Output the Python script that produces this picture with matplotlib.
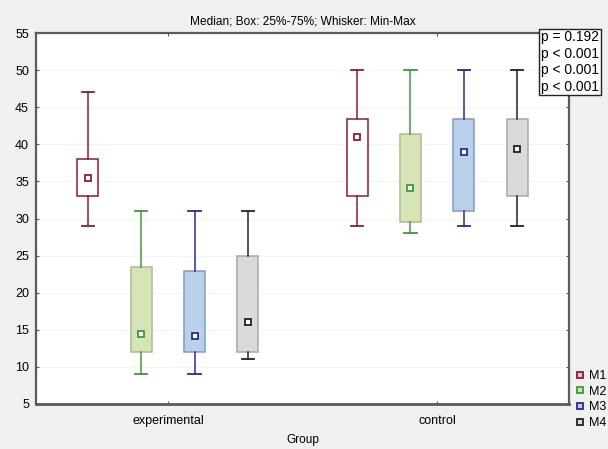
import matplotlib
matplotlib.use("Agg")
import matplotlib.pyplot as plt
from matplotlib.lines import Line2D

plt.rcParams['font.family'] = ['Liberation Sans', 'DejaVu Sans']

groups = ['experimental', 'control']
series = ['M1', 'M2', 'M3', 'M4']
p_values = ['p = 0.192', 'p < 0.001', 'p < 0.001', 'p < 0.001']

# min, q1, median, q3, max for each group
m1_vals = [[29, 33, 35.5, 38, 47], [29, 33, 41, 43.4, 50]]
m2_vals = [[9, 12, 14.5, 23.4, 31], [28, 29.5, 34.1, 41.4, 50]]
m3_vals = [[9, 12, 14.1, 22.9, 31], [29, 31, 39, 43.4, 50]]
m4_vals = [[11, 12, 16.1, 25, 31], [29, 33, 39.4, 43.4, 50]]

line_colors = ['#8c1c2c', '#3d9a3d', '#2b2b8e', '#222222']
box_edges = ['#8c1c2c', '#a9bd8c', '#7f9dc6', '#a8a8a8']
box_fills = ['#ffffff', '#d7e4b8', '#bad0ea', '#dadada']
offsets = [-0.297, -0.099, 0.099, 0.297]

fig = plt.figure(figsize=(6.08, 4.49), dpi=100, facecolor='#f0f0f0')
ax = fig.add_axes([36/608, 45/449, 533/608, 371/449])

for i, vals in enumerate([m1_vals, m2_vals, m3_vals, m4_vals]):
    stats = []
    for v in vals:
        stats.append({'whislo': v[0], 'q1': v[1], 'med': v[2], 'q3': v[3],
                      'whishi': v[4], 'fliers': []})
    pos = [g + offsets[i] for g in range(len(groups))]
    ax.bxp(stats, positions=pos, widths=0.078, capwidths=0.045,
           patch_artist=True, showfliers=False,
           boxprops=dict(facecolor=box_fills[i], edgecolor=box_edges[i], linewidth=1.1),
           whiskerprops=dict(color=line_colors[i], linewidth=1.1),
           capprops=dict(color=line_colors[i], linewidth=1.3),
           medianprops=dict(visible=False), manage_ticks=False, zorder=3)
    ax.plot(pos, [v[2] for v in vals], linestyle='none', marker='s', markersize=4.5,
            markerfacecolor='white', markeredgecolor=line_colors[i],
            markeredgewidth=1.3, zorder=4)

ax.set_xlim(-0.49, 1.49)
ax.set_ylim(5, 55)
ax.set_yticks(range(5, 56, 5))
ax.set_xticks(range(len(groups)))
ax.set_xticklabels(groups)
ax.yaxis.grid(True, color='#f5f5f5', linewidth=0.8)
ax.set_axisbelow(True)
ax.tick_params(axis='both', direction='in', length=2.5, labelsize=9, color='#555555',
               top=True, right=True)
ax.tick_params(axis='x', pad=8)
ax.tick_params(axis='y', pad=5)
for s in ax.spines.values():
    s.set_color('#5a5a5a')
    s.set_linewidth(1.6)
ax.spines['bottom'].set_linewidth(2)

ax.set_title('Median; Box: 25%-75%; Whisker: Min-Max', fontsize=8.6, pad=6)
ax.set_xlabel('Group', fontsize=8.6, labelpad=5)

# p-value box
fig.text(541/608, 1 - 62/449, '\n'.join(p_values), fontsize=10, va='center',
         ha='left', linespacing=1.22,
         bbox=dict(boxstyle='square,pad=0.12', facecolor='white', edgecolor='#222222',
                   linewidth=1))

# legend in the lower right corner
handles = [Line2D([], [], linestyle='none', marker='s', markersize=5,
                  markerfacecolor=box_fills[i] if i else '#e8c8cc',
                  markeredgecolor=line_colors[i], markeredgewidth=1.3)
           for i in range(len(series))]
fig.legend(handles, series, loc='upper left', bbox_to_anchor=(571/608, 1 - 365/449),
           frameon=False, fontsize=9, handlelength=0.7, handletextpad=0.3,
           labelspacing=0.3, borderaxespad=0)

fig.savefig('out.png', dpi=100, facecolor=fig.get_facecolor())
